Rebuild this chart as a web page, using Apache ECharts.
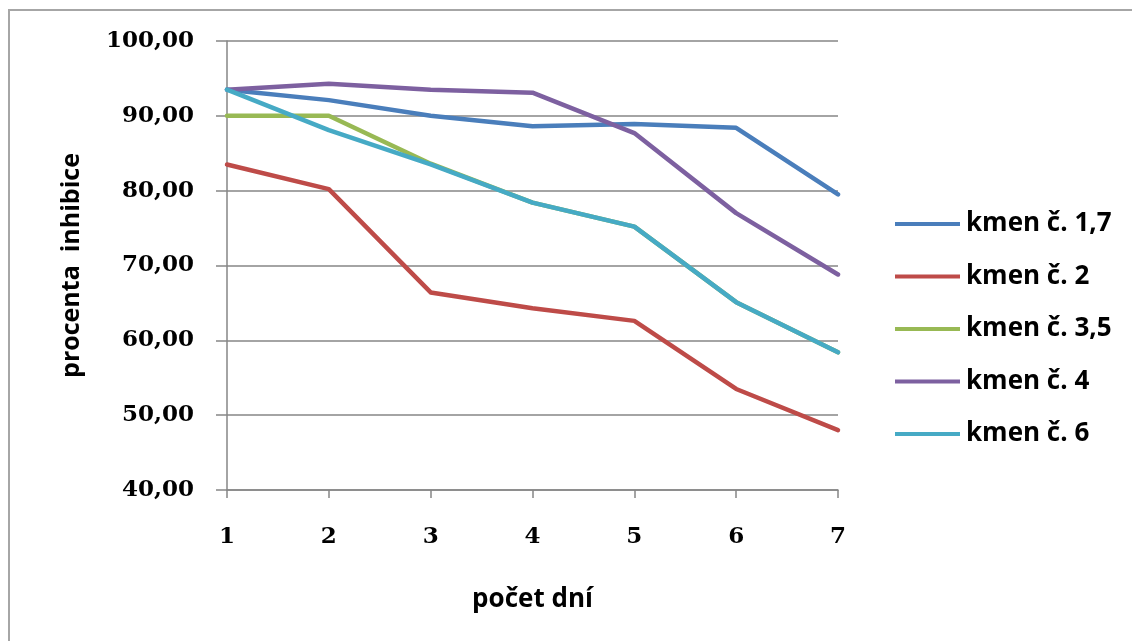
<!DOCTYPE html>
<html>
<head>
<meta charset="utf-8">
<script src="https://cdn.jsdelivr.net/npm/echarts@6/dist/echarts.min.js"></script>
<style>
  html, body { margin: 0; padding: 0; background: #fff; overflow: hidden; }
  #frame { position: absolute; left: 8px; top: 9px; width: 1140px; height: 650px; border: 2px solid #a6a6a6; box-sizing: border-box; }
  #chart { position: absolute; left: 0; top: 0; width: 1132px; height: 641px; }
</style>
</head>
<body>
<div id="frame"></div>
<div id="chart"></div>
<script>
const days = [1, 2, 3, 4, 5, 6, 7];
const yTicks = [40, 50, 60, 70, 80, 90, 100];
const seriesNames = ['kmen č. 1,7', 'kmen č. 2', 'kmen č. 3,5', 'kmen č. 4', 'kmen č. 6'];
const kmen17 = [93.5, 92.1, 90.0, 88.6, 88.9, 88.4, 79.5];
const kmen2  = [83.5, 80.2, 66.4, 64.3, 62.6, 53.5, 48.0];
const kmen35 = [90.0, 90.0, 83.6, 78.4, 75.2, 65.1, 58.4];
const kmen4  = [93.5, 94.3, 93.5, 93.1, 87.7, 77.0, 68.8];
const kmen6  = [93.5, 88.1, 83.5, 78.4, 75.2, 65.1, 58.4];
const colors = ['#4A7EBB', '#BE4B48', '#98B954', '#7D60A0', '#46AAC5'];

const allValues = [kmen17, kmen2, kmen35, kmen4, kmen6];

const chart = echarts.init(document.getElementById('chart'), null, { renderer: 'canvas' });
const serifFont = '"DejaVu Serif", serif';
const sansFont = '"Open Sans", sans-serif';

chart.setOption({
  backgroundColor: 'transparent',
  animation: false,
  color: colors,
  grid: { left: 227, right: 294, top: 41, bottom: 151, containLabel: false },
  legend: {
    orient: 'vertical',
    left: 890,
    top: 206,
    itemWidth: 65,
    itemHeight: 4,
    itemGap: 26.5,
    icon: 'rect',
    data: seriesNames,
    textStyle: { fontFamily: sansFont, fontWeight: 'bold', fontSize: 26, lineHeight: 26, color: '#000', padding: [0, 0, 0, 1] }
  },
  xAxis: {
    type: 'value',
    min: 1, max: 7, interval: 1,
    name: 'počet dní',
    nameLocation: 'middle',
    nameGap: 97,
    nameTextStyle: { fontFamily: sansFont, fontWeight: 'bold', fontSize: 26, color: '#000' },
    axisLine: { show: true, lineStyle: { color: '#868686', width: 1.5 } },
    axisTick: { show: true, length: 8, lineStyle: { color: '#868686', width: 1.5 } },
    axisLabel: {
      margin: 36,
      fontFamily: serifFont, fontWeight: 'bold', fontSize: 23, color: '#000',
      formatter: v => String(days[v - 1] !== undefined ? days[v - 1] : v)
    },
    splitLine: { show: false }
  },
  yAxis: {
    type: 'value',
    min: yTicks[0], max: yTicks[yTicks.length - 1], interval: 10,
    name: 'procenta  inhibice',
    nameLocation: 'middle',
    nameGap: 143,
    nameTextStyle: { fontFamily: sansFont, fontWeight: 'bold', fontSize: 25, color: '#000' },
    axisLine: { show: true, lineStyle: { color: '#868686', width: 1.5 } },
    axisTick: { show: true, length: 11, lineStyle: { color: '#868686', width: 1.5 } },
    axisLabel: {
      margin: 33,
      fontFamily: serifFont, fontWeight: 'bold', fontSize: 23, color: '#000',
      formatter: v => v.toFixed(2).replace('.', ',')
    },
    splitLine: { show: true, lineStyle: { color: '#868686', width: 1.5 } }
  },
  series: seriesNames.map((name, i) => ({
    name,
    type: 'line',
    data: days.map((d, j) => [d, allValues[i][j]]),
    showSymbol: false,
    symbol: 'none',
    lineStyle: { width: 4.5, color: colors[i], cap: 'round', join: 'round' },
    itemStyle: { color: colors[i] },
    z: 2 + i
  }))
});
</script>
</body>
</html>
